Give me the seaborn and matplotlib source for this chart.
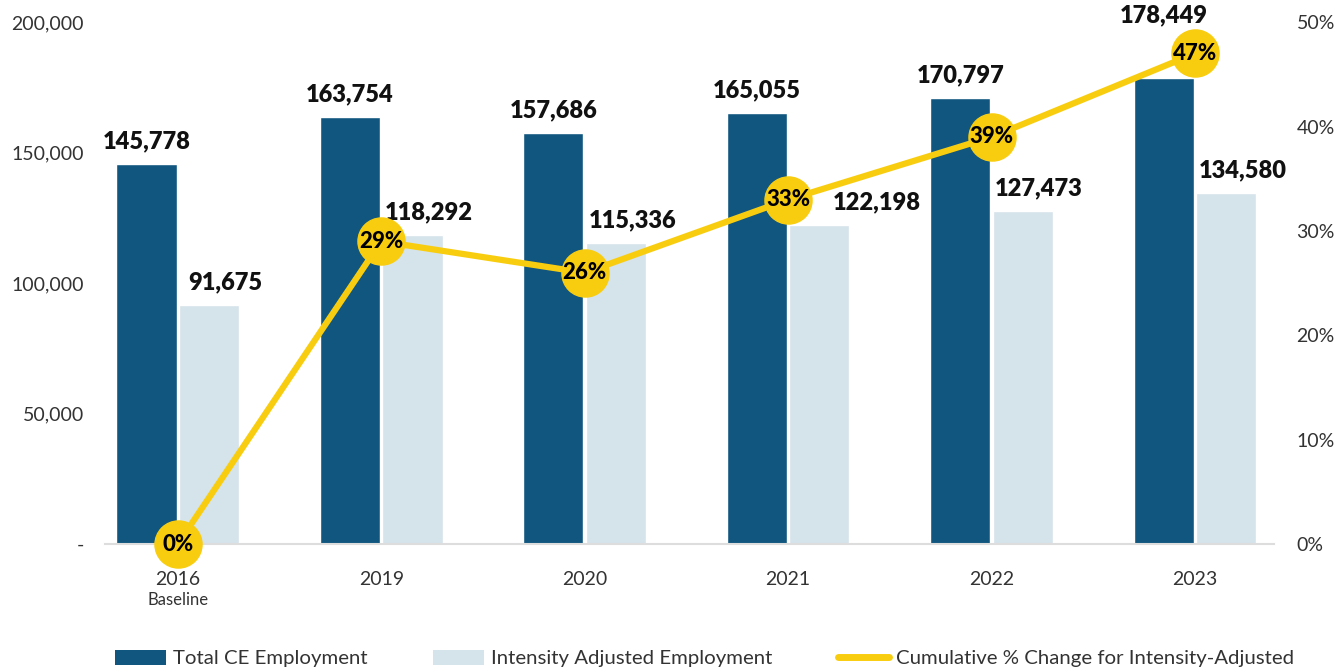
import matplotlib
matplotlib.use("Agg")
import matplotlib.pyplot as plt
import seaborn as sns
import pandas as pd
from matplotlib.patches import Patch
from matplotlib.lines import Line2D

years = ["2016", "2019", "2020", "2021", "2022", "2023"]
total_ce = [145778, 163754, 157686, 165055, 170797, 178449]
intensity_adj = [91675, 118292, 115336, 122198, 127473, 134580]
cum_change = [0.00, 0.29, 0.26, 0.33, 0.39, 0.47]

left_ticks = [0, 50000, 100000, 150000, 200000]
left_tick_labels = ["-", "50,000", "100,000", "150,000", "200,000"]
right_ticks = [0, 0.1, 0.2, 0.3, 0.4, 0.5]
right_tick_labels = ["0%", "10%", "20%", "30%", "40%", "50%"]

series_names = ["Total CE Employment", "Intensity Adjusted Employment",
                "Cumulative % Change for Intensity-Adjusted"]

DARK = "#10567F"
LIGHT = "#D5E3EA"
YELLOW = "#F9CD0F"
TEXT = "#333333"

sns.set_theme(style="white")
plt.rcParams["font.family"] = ["Lato", "DejaVu Sans"]

df = pd.DataFrame({
    "year": years * 2,
    "value": total_ce + intensity_adj,
    "series": [series_names[0]] * len(years) + [series_names[1]] * len(years),
})

fig = plt.figure(figsize=(13.4, 6.71), dpi=100)
ax = fig.add_axes([0.078, 0.189, 0.873, 0.778])

sns.barplot(data=df, x="year", y="value", hue="series", order=years,
            hue_order=series_names[:2], palette=[DARK, LIGHT],
            width=0.615, gap=0.04, saturation=1, legend=False, ax=ax)

ax.set_xlim(-0.36, 5.39)
ax.set_ylim(0, 200000)
ax.set_yticks(left_ticks)
ax.set_yticklabels(left_tick_labels)
ax.set_xlabel("")
ax.set_ylabel("")
for s in ["top", "right", "left"]:
    ax.spines[s].set_visible(False)
ax.spines["bottom"].set_color("#DDDDDD")
ax.spines["bottom"].set_linewidth(1.5)
ax.tick_params(axis="y", length=0, labelsize=14, labelcolor=TEXT, pad=15)
ax.tick_params(axis="x", length=0, labelsize=14, labelcolor=TEXT, pad=19)
ax.set_xticks(range(len(years)))
ax.set_xticklabels(years)
ax.text(0, -0.107, "Baseline", transform=ax.get_xaxis_transform(),
        ha="center", va="center", fontsize=12, color=TEXT)

# value labels above bars; a few are nudged clear of the line markers
x_nudge = {(1, 3): 0.2}
y_nudge = {(0, 5): 15500}
for si, container in enumerate(ax.containers):
    for bi, bar in enumerate(container):
        h = bar.get_height()
        dx = 0.0 if si == 0 else 0.08
        dx += x_nudge.get((si, bi), 0.0)
        dy = 4500 + y_nudge.get((si, bi), 0)
        ax.text(bar.get_x() + bar.get_width() / 2 + dx, h + dy, f"{int(h):,}",
                ha="center", va="bottom", fontsize=17, fontweight="heavy",
                color="#111111", clip_on=False, zorder=10)

# cumulative change line on secondary axis
ax2 = ax.twinx()
xs = list(range(len(years)))
sns.lineplot(x=xs, y=cum_change, color=YELLOW, linewidth=4.5, ax=ax2,
             legend=False)
ax2.scatter(xs, cum_change, s=1150, color=YELLOW, zorder=5, clip_on=False)
for x, v in zip(xs, cum_change):
    ax2.text(x, v, f"{v:.0%}", ha="center", va="center", fontsize=16,
             fontweight="black", color="#000000", zorder=6)
ax2.set_ylim(0, 0.5)
ax2.set_yticks(right_ticks)
ax2.set_yticklabels(right_tick_labels)
for s in ["top", "right", "left", "bottom"]:
    ax2.spines[s].set_visible(False)
ax2.tick_params(axis="y", length=0, labelsize=14, labelcolor=TEXT, pad=16)
ax2.set_xlim(ax.get_xlim())

handles = [
    Patch(facecolor=DARK, edgecolor="none"),
    Patch(facecolor=LIGHT, edgecolor="none"),
    Line2D([0], [0], color=YELLOW, linewidth=5, solid_capstyle="round"),
]
fig.legend(handles, series_names, loc="lower left",
           bbox_to_anchor=(0.072, -0.022), ncol=3, frameon=False,
           fontsize=14.7, handlelength=2.5, handleheight=0.75,
           handletextpad=0.35, columnspacing=3.2, labelcolor=TEXT)

fig.savefig("out.png", dpi=100)
